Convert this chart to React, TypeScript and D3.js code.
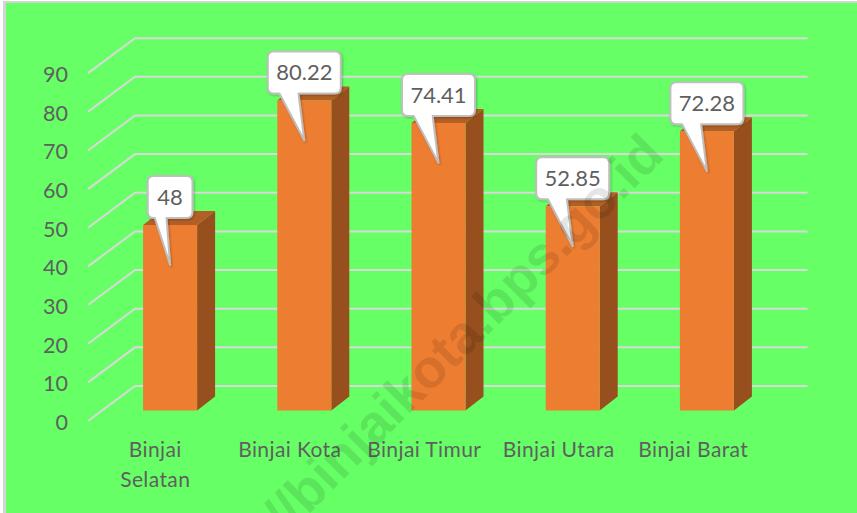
import React from "react";
import * as d3 from "d3";

const categories = ["Binjai Selatan", "Binjai Kota", "Binjai Timur", "Binjai Utara", "Binjai Barat"];
const values = [48, 80.22, 74.41, 52.85, 72.28];
const yTicks = [0, 10, 20, 30, 40, 50, 60, 70, 80, 90];
const watermark = "http://binjaikota.bps.go.id";

const width = 857;
const height = 513;
const fontFamily = "Lato, 'Open Sans', sans-serif";
const textColor = "#5f5f5f";

// the floor of the 3d chart: front edge, back edge
const floorFront = { x: 88, y: 421 };
const floorBack = { x: 135, y: 386 };
const plotWidth = 672.5;
const barWidth = 54;
const barDepthX = 18;
const barDepthY = 14;
const barBaseY = 410.5;
const unit = 3.865;

const App = () => {
    const svgRef = React.useRef<SVGSVGElement>(null);

    React.useEffect(() => {
        const svg = d3.select(svgRef.current);
        svg.selectAll("*").remove();

        // three y scales, one per depth plane of the 3d box
        const yFront = d3.scaleLinear().domain([0, 90]).range([floorFront.y, floorFront.y - 90 * unit]);
        const yBack = d3.scaleLinear().domain([0, 90]).range([floorBack.y, floorBack.y - 90 * unit]);
        const yBar = d3.scaleLinear().domain([0, 90]).range([barBaseY, barBaseY - 90 * unit]);

        const xLabels = d3.scaleBand().domain(categories).range([floorFront.x, floorFront.x + plotWidth]);
        const xBars = d3.scaleBand().domain(categories).range([103, 103 + 671]);

        const defs = svg.append("defs");
        const shadow = defs.append("filter").attr("id", "callout-shadow")
            .attr("x", "-20%").attr("y", "-20%").attr("width", "150%").attr("height", "150%");
        shadow.append("feDropShadow")
            .attr("dx", 1).attr("dy", 1).attr("stdDeviation", 1)
            .attr("flood-color", "#000").attr("flood-opacity", 0.25);

        // background and frame
        svg.append("rect").attr("width", width).attr("height", height).attr("fill", "#ffffff");
        svg.append("rect").attr("x", 3).attr("y", 1).attr("width", width).attr("height", height).attr("fill", "#d4d4d4");
        svg.append("rect").attr("x", 6).attr("y", 3).attr("width", width).attr("height", height).attr("fill", "#66ff66");

        // gridlines
        const gridPath = (t: number) =>
            d3.line()([
                [floorFront.x, yFront(t)],
                [floorBack.x, yBack(t)],
                [floorBack.x + plotWidth, yBack(t)],
            ]);
        svg.append("g").selectAll("path").data(yTicks).enter().append("path")
            .attr("d", (d) => gridPath(d))
            .attr("fill", "none")
            .attr("stroke", "#d9d9d9")
            .attr("stroke-width", 2);

        // y axis
        const yAxis = d3.axisLeft(yFront).tickValues(yTicks).tickSize(0).tickPadding(0);
        const yG = svg.append("g").attr("transform", "translate(68,1)").call(yAxis);
        yG.select(".domain").remove();
        yG.selectAll("text")
            .attr("font-family", fontFamily)
            .attr("font-size", 21.5)
            .attr("fill", textColor)
            .attr("dy", "0.35em");

        // x labels
        const xG = svg.append("g").selectAll("text").data(categories).enter().append("text")
            .attr("text-anchor", "middle")
            .attr("font-family", fontFamily)
            .attr("font-size", 21)
            .attr("letter-spacing", 0.4)
            .attr("fill", textColor)
            .attr("x", (d) => xLabels(d)! + xLabels.bandwidth() / 2)
            .attr("y", 457)
            .text((d) => d);
        xG.each(function (d) {
            const node = this as SVGTextElement;
            if (node.getComputedTextLength() < 125) return;
            const cx = xLabels(d)! + xLabels.bandwidth() / 2;
            const sel = d3.select(node).text(null);
            d.split(" ").forEach((word, i) => {
                sel.append("tspan").attr("x", cx).attr("y", 457 + i * 30).text(word);
            });
        });

        // bars
        const bars = svg.append("g").selectAll("g").data(categories).enter().append("g");
        const barLeft = (d: string) => xBars(d)! + (xBars.bandwidth() - barWidth) / 2;
        const barTop = (i: number) => yBar(values[i]);
        bars.append("path")
            .attr("fill", "#964f1d")
            .attr("d", (d, i) => {
                const r = barLeft(d) + barWidth;
                return d3.line()([
                    [r, barBaseY],
                    [r + barDepthX, barBaseY - barDepthY],
                    [r + barDepthX, barTop(i) - barDepthY],
                    [r, barTop(i)],
                ]) + "Z";
            });
        bars.append("path")
            .attr("fill", "#b35e24")
            .attr("d", (d, i) => {
                const l = barLeft(d);
                return d3.line()([
                    [l, barTop(i)],
                    [l + barDepthX, barTop(i) - barDepthY],
                    [l + barWidth + barDepthX, barTop(i) - barDepthY],
                    [l + barWidth, barTop(i)],
                ]) + "Z";
            });
        bars.append("rect")
            .attr("fill", "#ed7d31")
            .attr("x", barLeft)
            .attr("y", (d, i) => barTop(i))
            .attr("width", barWidth)
            .attr("height", (d, i) => barBaseY - barTop(i));

        // value callouts
        const calloutPath = (d: string, i: number) => {
            const cx = barLeft(d) + barWidth / 2;
            const label = String(values[i]);
            const w = 26 + 9.4 * label.length;
            const h = 42;
            const r = 6;
            const x0 = cx - w / 2;
            const x1 = cx + w / 2;
            const y1 = barTop(i) - 7;
            const y0 = y1 - h;
            const p = d3.path();
            p.moveTo(x0 + r, y0);
            p.lineTo(x1 - r, y0);
            p.quadraticCurveTo(x1, y0, x1, y0 + r);
            p.lineTo(x1, y1 - r);
            p.quadraticCurveTo(x1, y1, x1 - r, y1);
            p.lineTo(x0 + w * 0.42, y1);
            p.lineTo(cx, barTop(i) + 40);
            p.lineTo(x0 + w * 0.16, y1);
            p.lineTo(x0 + r, y1);
            p.quadraticCurveTo(x0, y1, x0, y1 - r);
            p.lineTo(x0, y0 + r);
            p.quadraticCurveTo(x0, y0, x0 + r, y0);
            p.closePath();
            return p.toString();
        };
        const callouts = svg.append("g").selectAll("g").data(categories).enter().append("g");
        callouts.append("path")
            .attr("d", calloutPath)
            .attr("fill", "#ffffff")
            .attr("stroke", "#bfbfbf")
            .attr("stroke-width", 2)
            .attr("stroke-linejoin", "round")
            .attr("filter", "url(#callout-shadow)");
        callouts.append("text")
            .attr("text-anchor", "middle")
            .attr("font-family", fontFamily)
            .attr("font-size", 22)
            .attr("fill", textColor)
            .attr("x", (d) => barLeft(d) + barWidth / 2)
            .attr("y", (d, i) => barTop(i) - 7 - 13)
            .text((d, i) => String(values[i]));

        // site watermark on top of everything, it runs off the bottom of the picture
        svg.append("text")
            .attr("transform", "translate(666,157) rotate(-45)")
            .attr("text-anchor", "end")
            .attr("font-family", "'Liberation Sans', Arial, sans-serif")
            .attr("font-weight", "bold")
            .attr("font-size", 54)
            .attr("fill", "#000000")
            .attr("fill-opacity", 0.1)
            .text(watermark);
    }, []);

    return (
        <svg
            ref={svgRef}
            width={width}
            height={height}
            style={{ position: "absolute", left: 0, top: 0 }}
        />
    );
};

export default App;
